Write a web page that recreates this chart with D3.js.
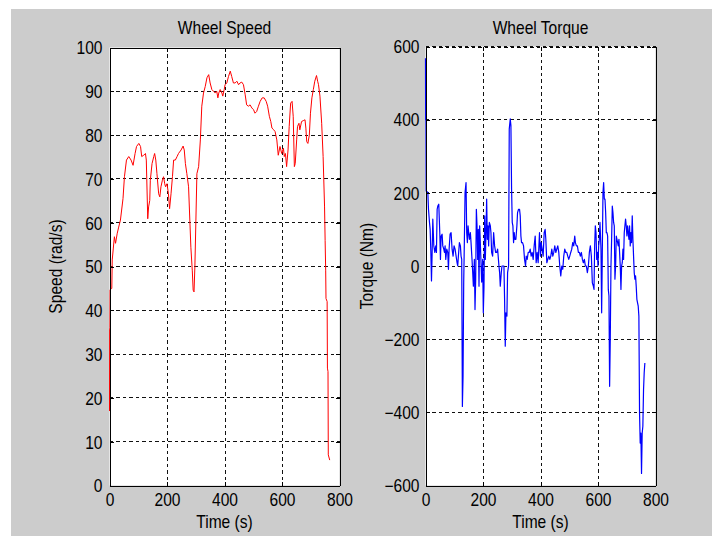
<!DOCTYPE html>
<html><head><meta charset="utf-8">
<script src="https://cdn.jsdelivr.net/npm/d3@7"></script>
<style>body{margin:0;background:#fff}svg{display:block}text{font-family:"Liberation Sans",Arial,sans-serif;fill:#000}</style>
</head><body><svg id="c" width="712" height="536"></svg>
<script>
const timeTicks = [0,200,400,600,800];
const speedTicks = [0,10,20,30,40,50,60,70,80,90,100];
const torqueTicks = [-600,-400,-200,0,200,400,600];
const titles = ["Wheel Speed","Wheel Torque"];
const xLabel = "Time (s)";
const yLabels = ["Speed (rad/s)","Torque (Nm)"];

// [time (s), speed (rad/s)]
const speedSeries = [[0,17],[0.5,35.5],[1.5,36],[2,44.7],[8,45],[9.5,51.5],[13,54],[17,56.8],[21,55.3],[27,57.6],[32,59],[38,60.6],[47,65.5],[52,70.5],[59,74.3],[67,75.1],[75,74.3],[82,73.1],[89,75.8],[94,77.4],[102,78.1],[108,77.4],[112,75.1],[119,75.4],[125,75.8],[128,74.3],[133,60.9],[136,63.6],[140,65.1],[142,69.7],[148,73.5],[154,75.1],[157,75.8],[161,74.3],[165,71.2],[171,66.6],[175,65.9],[179,68.2],[184,69.7],[188,70.5],[192,68.9],[195,68.2],[200,68.9],[205,66.6],[209,63.2],[214,66.6],[219,70.5],[223,74.3],[229,74.3],[235,75.1],[240,75.8],[249,76.6],[256,77.5],[260,76.6],[264,73.5],[269,71.2],[275,68.2],[279,61.3],[283,54.4],[288,49],[291,44.6],[294,44.2],[297,50],[304,71.2],[310,72.8],[316,78.9],[321,86.6],[327,89.6],[333,91.1],[339,93.1],[345,93.8],[350,91.9],[356,90.4],[362,90],[368,89.6],[373,90],[377,88.5],[380,89.6],[385,90.4],[391,89.6],[394,88.9],[399,90.4],[402,91.5],[408,91.9],[414,93.4],[420,94.6],[425,93.4],[431,91.9],[437,91.9],[443,92.3],[449,91.5],[454,91.9],[460,92.1],[466,91.5],[472,89.2],[477,86.9],[483,86.6],[489,86.9],[495,86.2],[501,85.8],[506,85],[512,85.4],[518,86.6],[524,87.7],[531,88.5],[538,88.5],[545,87.7],[550,86.6],[556,84.3],[561,83.1],[565,81.6],[570,81.3],[576,80.8],[582,78.9],[587,75.4],[593,77.4],[599,75.8],[605,77],[608,75.1],[612,75.8],[616,72.8],[621,76.6],[625,82],[630,87.3],[635,87.7],[639,84.3],[643,72.8],[646,73.5],[651,78.9],[654,82],[659,82.7],[662,81.2],[668,83.1],[674,83.3],[680,83.5],[683,81.6],[686,78.5],[690,78.1],[695,80],[699,85],[704,88.5],[709,90.4],[714,92.3],[720,93.6],[724,92.3],[727,91.5],[732,88.9],[738,82.7],[743,75.1],[748,63.6],[750,55.9],[752,49],[753,42.7],[757,42],[758,26.8],[760,26],[761,7],[766,5.8]];

// [time (s), torque (Nm)]
const torqueSeries = [[0,568],[0.5,400],[1.5,400],[2.3,205],[8.1,201],[10.4,155],[13.9,119],[16.2,100],[18.5,41],[20.8,-41],[23.1,37],[25.4,128],[28.9,55],[32.4,37],[35.8,55],[38.1,37],[40.5,155],[42.8,164],[46.2,169],[49.7,91],[52,18],[54.3,82],[57.8,87],[60.1,55],[63.6,46],[65.9,37],[68.2,55],[70.5,18],[74,46],[77.5,37],[79.8,-9],[82.1,46],[85.5,87],[89,91],[92.5,46],[95.9,27],[99.4,55],[102.9,46],[106.4,27],[109.8,9],[112.1,0],[114.4,27],[117.9,64],[121.4,55],[123.7,27],[126,18],[128.3,-384],[130.6,-301],[132.9,-44],[135.3,73],[137.6,201],[141,228],[143.3,91],[145.7,64],[148,110],[150.3,91],[152.6,73],[156.1,91],[158.4,64],[161.8,18],[164.2,-18],[166.5,-55],[169.9,18],[172.2,-119],[174.6,-36],[176.9,155],[179.2,110],[181.5,18],[183.8,100],[186.1,-55],[188.4,110],[190.7,64],[193.1,9],[195.4,-44],[198.8,18],[201.1,-128],[203.5,-55],[205.8,137],[208.1,18],[210.4,91],[212.7,183],[215,73],[217.3,110],[219.6,55],[222,119],[225.4,110],[227.7,91],[230,37],[233.5,27],[237,91],[240.4,55],[243.9,37],[247.4,37],[250.9,46],[255.5,0],[257.8,-18],[260.1,-55],[263.6,-18],[265.9,0],[269.3,0],[272.8,0],[275.1,-91],[277.4,-219],[279.8,-128],[283.2,-137],[285.5,-18],[289,0],[291.3,374],[294.8,402],[297.1,384],[299.4,210],[301.7,119],[304,110],[306.3,64],[308.7,91],[311,73],[314.4,73],[317.9,110],[320.2,146],[323.7,155],[327.1,155],[329.5,137],[331.8,82],[334.1,64],[337.6,64],[341,55],[344.5,18],[348,0],[350.3,27],[353.7,18],[357.2,37],[360.7,37],[364.1,46],[367.6,27],[371.1,37],[374.5,18],[378,55],[381.5,82],[384.9,9],[388.4,37],[391.9,9],[396.5,91],[400,27],[402.3,64],[405.8,46],[409.2,27],[412.7,91],[416.2,100],[418.5,73],[422,9],[425.4,18],[428.9,27],[432.4,18],[435.8,27],[439.3,46],[442.8,27],[446.2,37],[449.7,55],[453.2,37],[456.6,46],[460.1,55],[463.6,37],[467,0],[470.5,-27],[474,0],[477.5,-9],[480.9,27],[484.4,46],[487.9,37],[491.3,37],[494.8,27],[498.3,18],[501.7,27],[505.2,37],[508.7,46],[512.1,64],[515.6,55],[519.1,82],[521.4,64],[524.8,55],[528.3,55],[531.8,37],[535.3,37],[538.7,27],[542.2,37],[545.7,18],[549.1,9],[552.6,18],[556.1,0],[559.5,0],[563,-18],[566.5,0],[569.9,37],[573.4,55],[576.9,27],[580.3,-46],[583.8,-55],[586.1,-64],[588.4,55],[590.7,110],[593.1,91],[595.4,18],[597.7,37],[600,0],[602.3,55],[604.6,73],[606.9,119],[610.4,46],[612.7,-128],[615,37],[617.3,201],[619.6,228],[622,183],[624.3,183],[626.6,146],[628.9,91],[631.2,91],[633.5,82],[635.8,-64],[638.1,-82],[640.4,-329],[642.8,-192],[645.1,0],[647.4,73],[649.7,164],[652,146],[654.3,119],[656.6,110],[658.9,-36],[661.3,0],[663.6,82],[665.9,73],[668.2,64],[670.5,55],[672.8,73],[675.1,37],[677.4,0],[679.8,-64],[682.1,0],[684.4,9],[686.7,46],[689,18],[691.3,91],[693.6,110],[695.9,128],[698.2,110],[700.6,82],[702.9,110],[705.2,91],[707.5,73],[709.8,110],[712.1,55],[714.4,91],[716.7,64],[719.1,137],[721.4,73],[723.7,27],[726,-18],[728.3,-36],[730.6,-27],[732.9,-55],[735.2,-91],[737.6,-101],[739.9,-110],[742.2,-137],[744.5,-402],[746.8,-484],[749.1,-457],[751.4,-567],[753.7,-457],[756,-438],[758.4,-338],[760.7,-292],[763,-265]];

const svg = d3.select("#c");
svg.append("rect").attr("x",11).attr("y",9).attr("width",701).attr("height",527).attr("fill","#cccccc");

const SX = 0.89, FS = "17.5px";

function panel(cfg){
  const x = d3.scaleLinear().domain([0,800]).range([cfg.x0,cfg.x1]);
  const y = d3.scaleLinear().domain(cfg.ydom).range([cfg.y1,cfg.y0]);
  const g = svg.append("g");
  g.append("rect").attr("x",cfg.x0).attr("y",cfg.y0).attr("width",cfg.x1-cfg.x0).attr("height",cfg.y1-cfg.y0).attr("fill","#fff");
  // grid
  const grid = g.append("g").attr("stroke","#111").attr("stroke-width",1).attr("stroke-dasharray","3.5,3").attr("shape-rendering","crispEdges");
  timeTicks.slice(1,-1).forEach(t=>grid.append("line").attr("x1",Math.round(x(t))+0.5).attr("x2",Math.round(x(t))+0.5).attr("y1",cfg.y0).attr("y2",cfg.y1));
  cfg.yticks.slice(1,cfg.gridTop?undefined:-1).forEach(v=>grid.append("line").attr("x1",cfg.x0).attr("x2",cfg.x1).attr("y1",Math.round(y(v)-0.5)+0.5).attr("y2",Math.round(y(v)-0.5)+0.5));
  // line
  g.append("path").datum(cfg.data).attr("fill","none").attr("stroke",cfg.color).attr("stroke-width",cfg.lw).attr("stroke-linejoin","round")
    .attr("d",d3.line().x(d=>x(d[0])).y(d=>y(d[1])));
  // axes with inward ticks
  const ax = (gen, tr) => {
    const a = g.append("g").attr("transform",tr).call(gen);
    a.selectAll("path,line").attr("stroke","#000").attr("shape-rendering","crispEdges");
    a.selectAll("text").attr("font-size",FS);
    return a;
  };
  const xb = ax(d3.axisBottom(x).tickValues(timeTicks).tickSizeInner(-4).tickSizeOuter(0).tickPadding(0), `translate(0,${cfg.y1})`);
  xb.selectAll("text").attr("y",21).attr("dy",null).attr("transform",`scale(${SX},1)`);
  const yl = ax(d3.axisLeft(y).tickValues(cfg.yticks).tickSizeInner(-4).tickSizeOuter(0).tickPadding(0), `translate(${cfg.x0},0)`);
  yl.selectAll("text").attr("x",-cfg.lpad/SX).attr("dy","0.36em").attr("transform",`scale(${SX},1)`);
  const xt = ax(d3.axisTop(x).tickValues(timeTicks).tickSizeInner(-4).tickSizeOuter(0).tickFormat(""), `translate(0,${cfg.y0})`);
  if (cfg.gridTop) xt.select("path.domain").attr("stroke-dasharray","3.5,3");
  ax(d3.axisRight(y).tickValues(cfg.yticks).tickSizeInner(-4).tickSizeOuter(0).tickFormat(""), `translate(${cfg.x1},0)`);
  // texts
  const cx = (cfg.x0+cfg.x1)/2;
  svg.append("text").attr("transform",`translate(${cx},34) scale(${SX},1)`).attr("text-anchor","middle").attr("font-size",FS).text(cfg.title);
  svg.append("text").attr("transform",`translate(${cx},528) scale(${SX},1)`).attr("text-anchor","middle").attr("font-size",FS).text(xLabel);
  svg.append("text").attr("transform",`translate(${cfg.ylx},${(cfg.y0+cfg.y1)/2}) rotate(-90) scale(${SX},1)`).attr("text-anchor","middle").attr("font-size",FS).text(cfg.ylabel);
}

panel({x0:109.5,x1:339.5,y0:47.5,y1:485.5,ydom:[0,100],yticks:speedTicks,data:speedSeries,color:"#ff0000",lw:1,
  title:titles[0],ylabel:yLabels[0],ylx:62,lpad:7,gridTop:false});
panel({x0:425.5,x1:655.5,y0:46.5,y1:485.5,ydom:[-600,600],yticks:torqueTicks,data:torqueSeries,color:"#0000ff",lw:1.2,
  title:titles[1],ylabel:yLabels[1],ylx:373,lpad:6,gridTop:true});
</script></body></html>
